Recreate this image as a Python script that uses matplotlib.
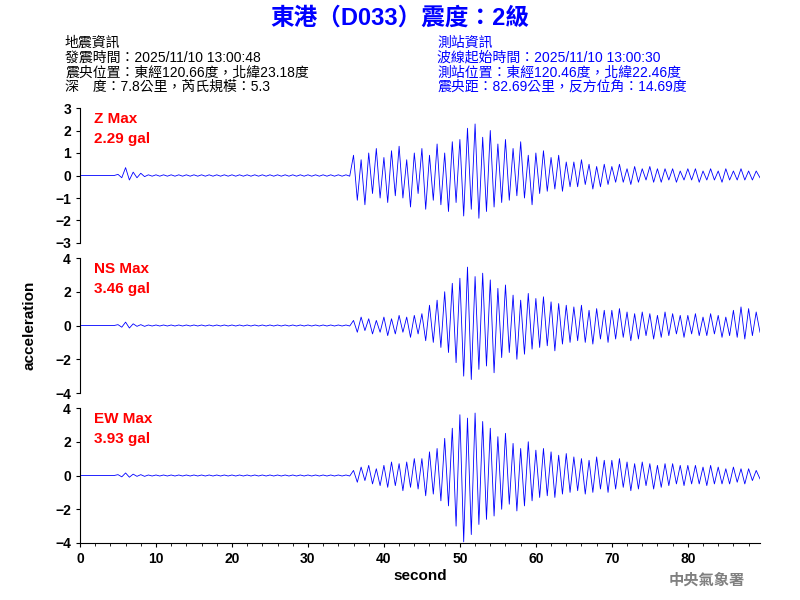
import matplotlib
matplotlib.use("Agg")
import matplotlib.pyplot as plt
import numpy as np

plt.rcParams['font.family'] = ['Liberation Sans', 'Noto Sans CJK TC', 'DejaVu Sans']

step = 0.5
z_pre = [0.0]*10 + [0.05,-0.1,0.35,-0.2,0.15,-0.1,0.1,-0.05] + [0.03,-0.03]*27
z_ev = [0.9,-1.1,0.7,-1.3,1.0,-0.8,1.2,-1.0,
        0.8,-1.2,1.1,-0.9,1.3,-1.0,0.7,-1.4,1.0,-0.8,
        1.2,-1.5,0.9,-1.1,1.4,-1.3,1.0,-1.6,1.5,-1.2,
        1.6,-1.8,2.1,-1.5,2.29,-1.9,1.7,-1.6,2.0,-1.4,
        1.4,-1.2,1.6,-1.1,1.2,-0.9,1.5,-1.0,0.9,-1.3,
        1.0,-0.8,1.1,-0.7,0.8,-0.6,0.9,-0.7,0.6,-0.5,
        0.6,-0.5,0.7,-0.4,0.5,-0.6,0.4,-0.5,0.5,-0.4,
        0.4,-0.3,0.5,-0.3,0.3,-0.4,0.4,-0.3,0.3,-0.2,0.4,-0.3,0.3,-0.3,0.3,-0.2,0.3,-0.3,0.2,-0.2,
        0.3,-0.2,0.3,-0.3,0.2,-0.2,0.3,-0.2,0.2,-0.3,0.3,-0.2,0.2,-0.2,0.3,-0.2,0.2,-0.2,0.2,-0.1]
ns_pre = [0.0]*10 + [0.05,-0.1,0.2,-0.15,0.1,-0.05,0.05,-0.05] + [0.03,-0.03]*27
ns_ev = [0.3,-0.4,0.5,-0.3,0.4,-0.5,0.3,-0.4,
         0.5,-0.6,0.4,-0.5,0.6,-0.4,0.5,-0.7,0.6,-0.5,
         0.7,-0.9,1.2,-1.0,1.5,-1.3,2.0,-1.6,2.5,-2.2,
         2.8,-3.0,3.46,-3.2,2.9,-2.6,3.1,-2.4,2.7,-2.8,
         2.2,-1.9,2.4,-1.6,1.8,-2.0,1.5,-1.7,1.9,-1.4,
         1.6,-1.3,1.7,-1.2,1.4,-1.5,1.3,-1.1,1.2,-1.0,
         1.1,-0.9,1.2,-1.0,0.9,-1.1,1.0,-0.8,0.9,-1.0,
         0.9,-0.8,1.0,-0.7,0.8,-0.9,0.7,-0.8,0.8,-0.6,0.7,-0.8,0.6,-0.7,0.8,-0.6,0.7,-0.5,0.6,-0.7,
         0.6,-0.5,0.7,-0.6,0.5,-0.6,0.7,-0.5,0.6,-0.7,0.5,-0.6,0.9,-0.7,1.1,-0.8,1.0,-0.6,0.8,-0.4]
ew_pre = [0.0]*10 + [0.05,-0.08,0.15,-0.1,0.08,-0.05,0.05,-0.05] + [0.03,-0.03]*27
ew_ev = [0.3,-0.4,0.5,-0.3,0.6,-0.5,0.4,-0.6,
         0.6,-0.7,0.8,-0.6,0.7,-0.9,0.8,-0.7,1.0,-0.8,
         1.0,-1.2,1.4,-1.1,1.6,-1.5,2.2,-1.8,2.8,-3.0,
         3.6,-3.93,3.4,-3.5,3.7,-2.9,3.2,-2.6,2.8,-2.4,
         2.3,-2.0,2.5,-1.7,1.9,-2.1,1.6,-1.8,2.0,-1.5,
         1.5,-1.3,1.6,-1.2,1.4,-1.3,1.2,-1.1,1.3,-1.0,
         1.1,-0.9,1.0,-1.1,0.9,-1.0,1.1,-0.8,0.9,-1.0,
         0.9,-0.8,1.0,-0.7,0.8,-0.9,0.7,-0.8,0.8,-0.6,0.7,-0.8,0.6,-0.7,0.7,-0.6,0.7,-0.5,0.6,-0.6,
         0.6,-0.5,0.6,-0.5,0.5,-0.6,0.6,-0.5,0.5,-0.5,0.4,-0.5,0.5,-0.4,0.4,-0.5,0.4,-0.3,0.3,-0.2]

labels = ["Z Max\n2.29 gal", "NS Max\n3.46 gal", "EW Max\n3.93 gal"]
series = [z_pre + z_ev, ns_pre + ns_ev, ew_pre + ew_ev]
ylims = [(-3, 3), (-4, 4), (-4, 4)]
yticks = [[-3,-2,-1,0,1,2,3], [-4,-2,0,2,4], [-4,-2,0,2,4]]

fig = plt.figure(figsize=(8, 6), dpi=100)
W, H = 800, 600
tops = [108, 258, 408]
for i in range(3):
    ax = fig.add_axes([80/W, 1-(tops[i]+135)/H, 680/W, 135/H])
    y = np.array(series[i])
    x = np.arange(len(y))*step
    ax.plot(x, y, color='blue', lw=0.6)
    ax.set_xlim(0, 89.5)
    ax.set_ylim(*ylims[i])
    ax.set_yticks(yticks[i])
    for s in ['top', 'right']:
        ax.spines[s].set_visible(False)
    ax.tick_params(labelsize=10, direction='out', length=3)
    for lab in ax.get_yticklabels():
        lab.set_fontweight('bold')
    if i < 2:
        ax.spines['bottom'].set_visible(False)
        ax.set_xticks([])
    else:
        ax.set_xticks(range(0, 90, 10))
        ax.set_xticks(range(0, 90, 2), minor=True)
        for lab in ax.get_xticklabels():
            lab.set_fontweight('bold')
        ax.set_xlabel("second", fontsize=11, fontweight='bold', labelpad=2)
    ax.text(0.02, 0.97, labels[i], transform=ax.transAxes, color='red',
            fontsize=11, fontweight='bold', va='top', linespacing=1.5)

fig.text(30/W, 1-325/H, "acceleration", rotation=90, fontsize=11, fontweight='bold',
         ha='center', va='center')
fig.text(0.5, 1-18/H, "東港（D033）震度：2級", color='blue', fontsize=17,
         fontweight='bold', ha='center', va='center')
left = "地震資訊\n發震時間：2025/11/10 13:00:48\n震央位置：東經120.66度，北緯23.18度\n深　度：7.8公里，芮氏規模：5.3"
right = "測站資訊\n波線起始時間：2025/11/10 13:00:30\n測站位置：東經120.46度，北緯22.46度\n震央距：82.69公里，反方位角：14.69度"
fig.text(65/W, 1-36/H, left, fontsize=10, va='top', linespacing=1.05)
fig.text(437/W, 1-36/H, right, fontsize=10, va='top', color='blue', linespacing=1.05)
fig.text(745/W, 1-581/H, "中央氣象署", fontsize=11, color='gray', ha='right',
         va='center', fontweight='bold')
fig.savefig("out.png", dpi=100)
